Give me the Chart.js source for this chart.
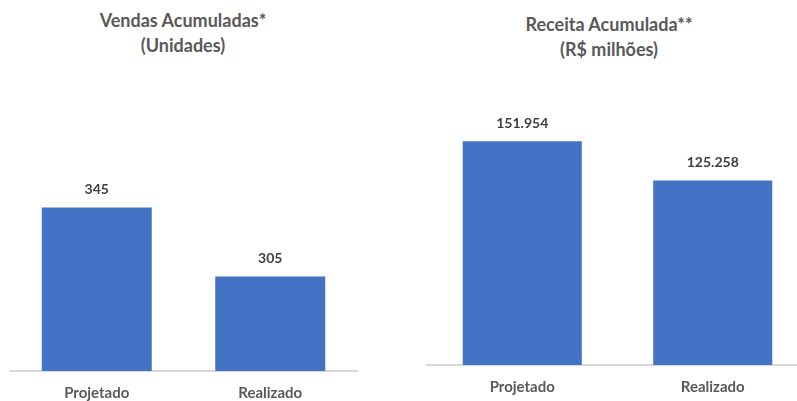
<!DOCTYPE html>
<html>
<head>
<meta charset="utf-8">
<script src="https://cdn.jsdelivr.net/npm/chart.js@4.4.0/dist/chart.umd.min.js"></script>
<style>
  html, body { margin: 0; padding: 0; background: #fff; }
  body { width: 797px; height: 401px; overflow: hidden; position: relative; font-family: Lato, "Open Sans", sans-serif; }
  .title { position: absolute; text-align: center; color: #595959; font-weight: bold; font-size: 18px; line-height: 25px; white-space: nowrap; }
  canvas { position: absolute; top: 0; }
</style>
</head>
<body>
<div class="title" style="left: 83px; width: 200px; top: 8px;">Vendas Acumuladas*<br>(Unidades)</div>
<div class="title" style="left: 509px; width: 200px; top: 12px;">Receita Acumulada**<br>(R$ milhões)</div>
<canvas id="vendas" width="400" height="430" style="left: 0;"></canvas>
<canvas id="receita" width="410" height="430" style="left: 400px;"></canvas>
<script>
// categories shared by both panels
const categories = ["Projetado", "Realizado"]
// Vendas acumuladas (unidades)
const vendasValues = [345, 305]
// Receita acumulada (R$ milhões)
const receitaValues = [151954, 125258]

const BAR_COLOR = "#4472C4"

// pt-BR thousands separator
const fmt = (v) => String(v).replace(/\B(?=(\d{3})+(?!\d))/g, ".")

// draws the value above each bar
const valueLabels = {
  id: "valueLabels",
  afterDatasetsDraw(chart) {
    const ctx = chart.ctx
    const meta = chart.getDatasetMeta(0)
    const values = chart.data.datasets[0].data
    ctx.save()
    ctx.font = "bold 14px Lato, 'Open Sans', sans-serif"
    ctx.fillStyle = "#404040"
    ctx.textAlign = "center"
    ctx.textBaseline = "middle"
    meta.data.forEach((bar, i) => {
      ctx.fillText(fmt(values[i]), bar.x, bar.y - 18)
    })
    ctx.restore()
  }
}

function makeChart(id, values, opts) {
  const ctx = document.getElementById(id).getContext("2d")
  return new Chart(ctx, {
    type: "bar",
    data: {
      labels: categories,
      datasets: [{
        data: values,
        backgroundColor: BAR_COLOR,
        borderWidth: 0,
        categoryPercentage: 1,
        barPercentage: opts.barPct
      }]
    },
    options: {
      responsive: false,
      animation: false,
      layout: { padding: opts.padding },
      plugins: {
        legend: { display: false },
        tooltip: { enabled: false }
      },
      scales: {
        x: {
          grid: { display: false, drawTicks: false },
          border: { display: true, color: "#D9D9D9", width: 2 },
          ticks: {
            color: "#595959",
            padding: 13,
            font: { family: "Lato, 'Open Sans', sans-serif", size: 15, weight: "bold" }
          }
        },
        y: {
          display: false,
          min: opts.min,
          max: opts.max
        }
      }
    },
    plugins: [valueLabels]
  })
}

makeChart("vendas", vendasValues, {
  min: 250, max: 400, barPct: 0.634,
  padding: { left: 10, right: 43, top: 113, bottom: 15 }
})

makeChart("receita", receitaValues, {
  min: 0, max: 180000, barPct: 0.625,
  padding: { left: 27, right: 2, top: 100, bottom: 21 }
})
</script>
</body>
</html>
